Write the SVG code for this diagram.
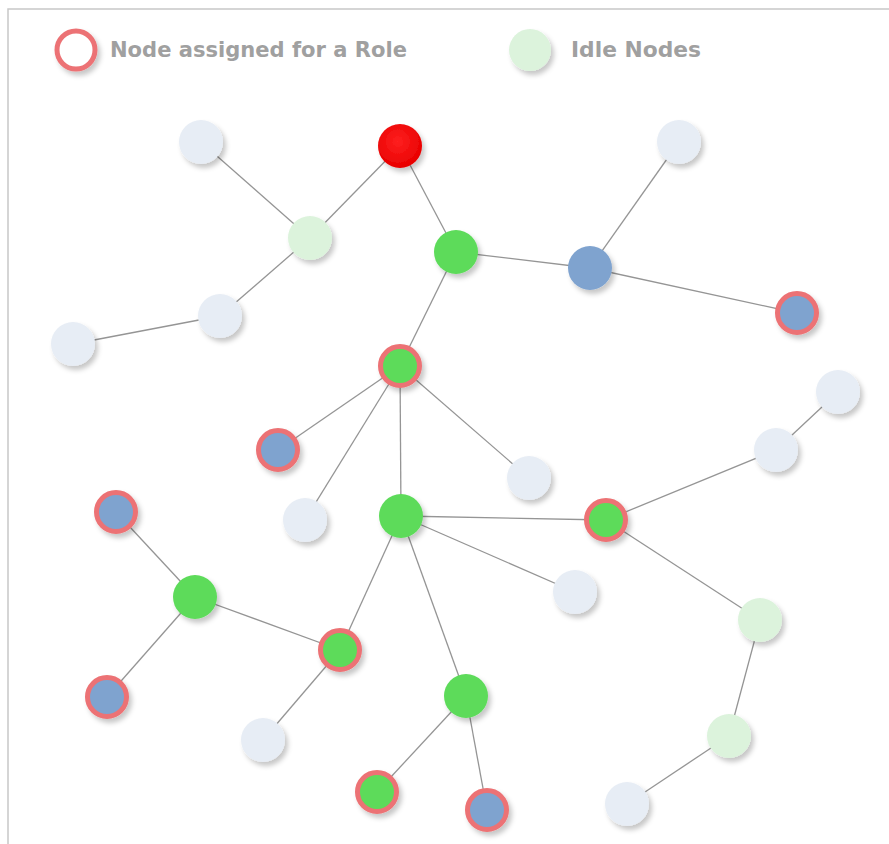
<svg xmlns="http://www.w3.org/2000/svg" width="889" height="844" viewBox="0 0 889 844">
  <defs>
    <filter id="shadow" x="-40%" y="-40%" width="190%" height="190%">
      <feDropShadow dx="3" dy="4" stdDeviation="2.5" flood-color="#000" flood-opacity="0.22"/>
    </filter>
    <radialGradient id="gRed" cx="45%" cy="40%" r="60%">
      <stop offset="0" stop-color="#ff2020"/>
      <stop offset="1" stop-color="#e80000"/>
    </radialGradient>
  </defs>
  <style>
    .frame { fill: #fff; stroke: #c8c8c8; stroke-width: 1.5; }
    .edge { stroke: #959595; stroke-width: 1.3; fill: none; }
    .node { filter: url(#shadow); }
    .idle { fill: #e7edf5; }
    .idleg { fill: #dcf3dc; }
    .green { fill: #5ddb5a; }
    .blue { fill: #7fa3cf; }
    .red { fill: url(#gRed); }
    .ring { stroke: #ec7274; stroke-width: 5; }
    .legend { font-family: "DejaVu Sans", Verdana, sans-serif; font-weight: bold; font-size: 20.5px; fill: #a0a0a0; }
  </style>

  <rect class="frame" x="8" y="9" width="900" height="860"/>

  <!-- legend -->
  <g id="legend">
    <circle class="node" cx="76" cy="50" r="19" fill="#fff" stroke="#ec7274" stroke-width="5"/>
    <text class="legend" x="110" y="57" textLength="297" lengthAdjust="spacingAndGlyphs">Node assigned for a Role</text>
    <circle class="node idleg" cx="530" cy="50" r="21"/>
    <text class="legend" x="571" y="57" textLength="130" lengthAdjust="spacingAndGlyphs">Idle Nodes</text>
  </g>

  <!-- connectors -->
  <g id="edges">
    <line class="edge" x1="201" y1="142" x2="310" y2="238"/>
    <line class="edge" x1="310" y1="238" x2="400" y2="146"/>
    <line class="edge" x1="310" y1="238" x2="220" y2="316"/>
    <line class="edge" x1="220" y1="316" x2="73" y2="344"/>
    <line class="edge" x1="400" y1="146" x2="456" y2="252"/>
    <line class="edge" x1="456" y1="252" x2="590" y2="268"/>
    <line class="edge" x1="590" y1="268" x2="679" y2="142"/>
    <line class="edge" x1="590" y1="268" x2="797" y2="313"/>
    <line class="edge" x1="456" y1="252" x2="400" y2="366"/>
    <line class="edge" x1="400" y1="366" x2="278" y2="450"/>
    <line class="edge" x1="400" y1="366" x2="305" y2="520"/>
    <line class="edge" x1="400" y1="366" x2="529" y2="478"/>
    <line class="edge" x1="400" y1="366" x2="401" y2="516"/>
    <line class="edge" x1="401" y1="516" x2="606" y2="520"/>
    <line class="edge" x1="606" y1="520" x2="776" y2="450"/>
    <line class="edge" x1="776" y1="450" x2="838" y2="392"/>
    <line class="edge" x1="606" y1="520" x2="760" y2="620"/>
    <line class="edge" x1="760" y1="620" x2="729" y2="736"/>
    <line class="edge" x1="729" y1="736" x2="627" y2="804"/>
    <line class="edge" x1="401" y1="516" x2="575" y2="592"/>
    <line class="edge" x1="401" y1="516" x2="340" y2="650"/>
    <line class="edge" x1="401" y1="516" x2="466" y2="696"/>
    <line class="edge" x1="340" y1="650" x2="195" y2="597"/>
    <line class="edge" x1="195" y1="597" x2="116" y2="512"/>
    <line class="edge" x1="195" y1="597" x2="107" y2="697"/>
    <line class="edge" x1="340" y1="650" x2="263" y2="740"/>
    <line class="edge" x1="466" y1="696" x2="377" y2="792"/>
    <line class="edge" x1="466" y1="696" x2="487" y2="810"/>
  </g>

  <!-- nodes -->
  <g id="n1"><circle class="node idle" cx="201" cy="142" r="22"/></g>
  <g id="n2"><circle class="node red" cx="400" cy="146" r="22"/></g>
  <g id="n3"><circle class="node idleg" cx="310" cy="238" r="22"/></g>
  <g id="n4"><circle class="node green" cx="456" cy="252" r="22"/></g>
  <g id="n5"><circle class="node idle" cx="679" cy="142" r="22"/></g>
  <g id="n6"><circle class="node blue" cx="590" cy="268" r="22"/></g>
  <g id="n7"><circle class="node blue ring" cx="797" cy="313" r="19.5"/></g>
  <g id="n8"><circle class="node idle" cx="220" cy="316" r="22"/></g>
  <g id="n9"><circle class="node idle" cx="73" cy="344" r="22"/></g>
  <g id="n10"><circle class="node green ring" cx="400" cy="366" r="19.5"/></g>
  <g id="n11"><circle class="node blue ring" cx="278" cy="450" r="19.5"/></g>
  <g id="n12"><circle class="node idle" cx="529" cy="478" r="22"/></g>
  <g id="n13"><circle class="node idle" cx="838" cy="392" r="22"/></g>
  <g id="n14"><circle class="node idle" cx="776" cy="450" r="22"/></g>
  <g id="n15"><circle class="node idle" cx="305" cy="520" r="22"/></g>
  <g id="n16"><circle class="node green" cx="401" cy="516" r="22"/></g>
  <g id="n17"><circle class="node green ring" cx="606" cy="520" r="19.5"/></g>
  <g id="n18"><circle class="node blue ring" cx="116" cy="512" r="19.5"/></g>
  <g id="n19"><circle class="node green" cx="195" cy="597" r="22"/></g>
  <g id="n20"><circle class="node idle" cx="575" cy="592" r="22"/></g>
  <g id="n21"><circle class="node idleg" cx="760" cy="620" r="22"/></g>
  <g id="n22"><circle class="node green ring" cx="340" cy="650" r="19.5"/></g>
  <g id="n23"><circle class="node blue ring" cx="107" cy="697" r="19.5"/></g>
  <g id="n24"><circle class="node green" cx="466" cy="696" r="22"/></g>
  <g id="n25"><circle class="node idle" cx="263" cy="740" r="22"/></g>
  <g id="n26"><circle class="node idleg" cx="729" cy="736" r="22"/></g>
  <g id="n27"><circle class="node green ring" cx="377" cy="792" r="19.5"/></g>
  <g id="n28"><circle class="node blue ring" cx="487" cy="810" r="19.5"/></g>
  <g id="n29"><circle class="node idle" cx="627" cy="804" r="22"/></g>
</svg>
